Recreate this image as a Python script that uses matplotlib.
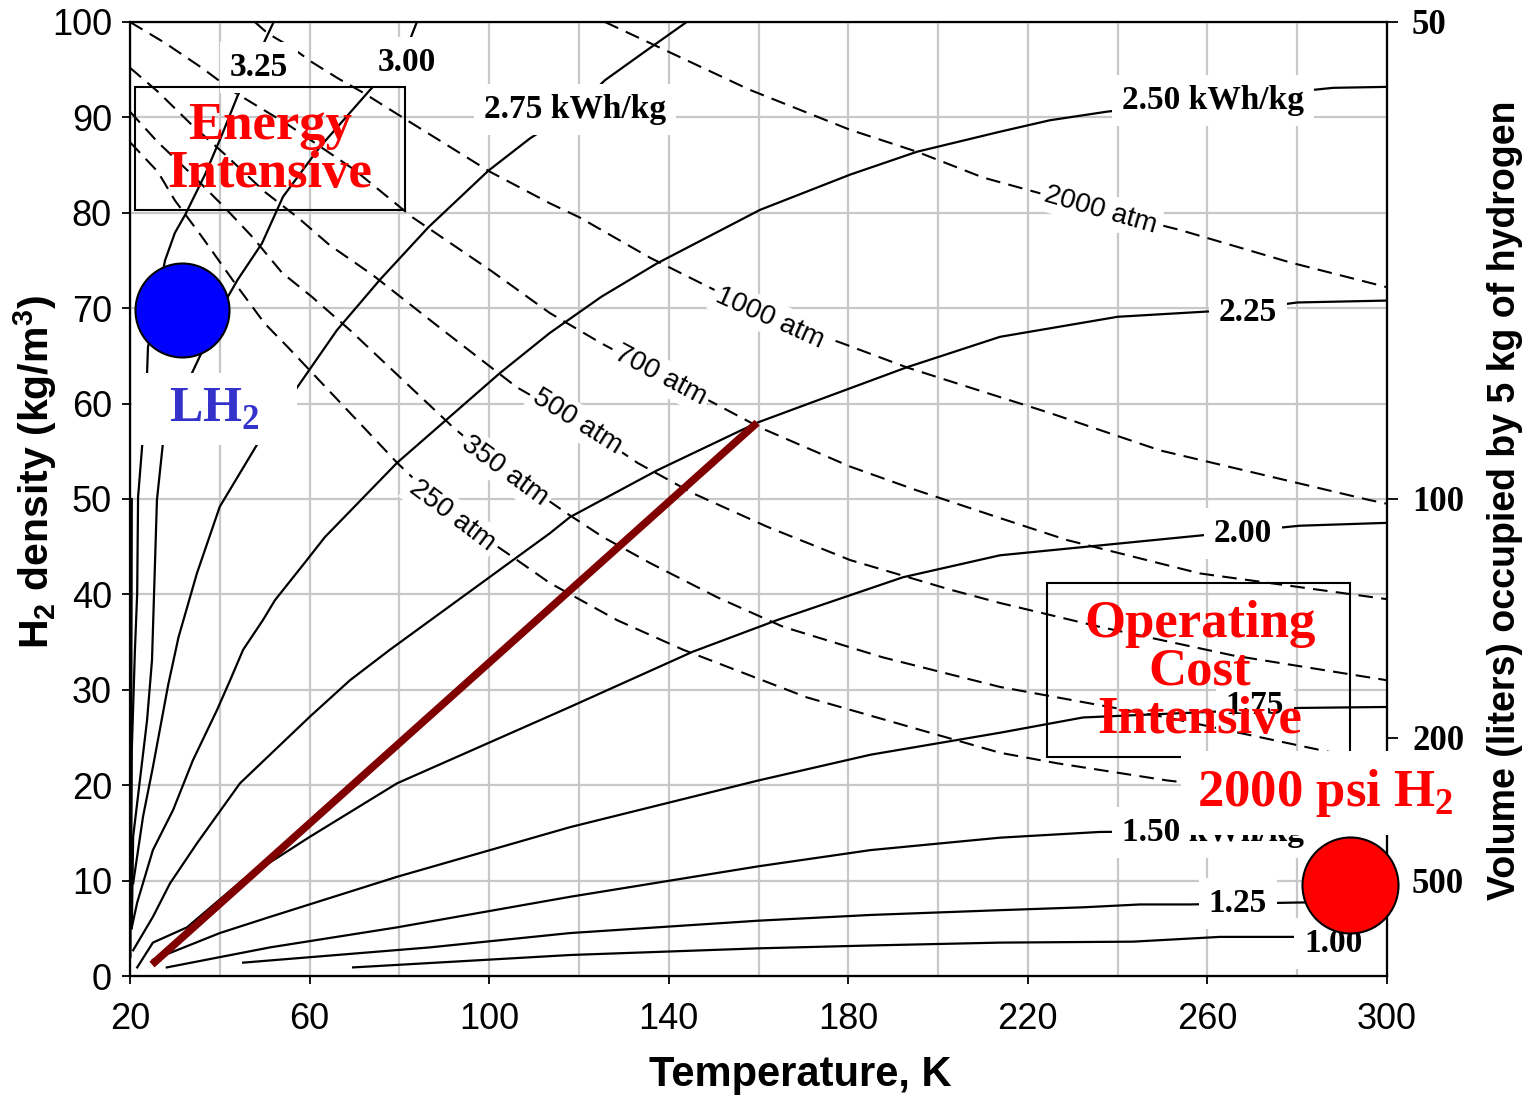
import matplotlib.pyplot as plt
import numpy as np
from matplotlib.patches import Rectangle

plt.rcParams['font.family'] = ['Liberation Sans', 'DejaVu Sans']
plt.rcParams['mathtext.fontset'] = 'custom'
plt.rcParams['mathtext.sf'] = 'Liberation Sans:bold'
plt.rcParams['mathtext.bf'] = 'Liberation Serif:bold'

SERIF = 'Liberation Serif'

e350 = [(20.1, 2), (20.3, 30), (20.4, 50)]
e325 = [(20.2, 5), (20.4, 23.7), (21.1, 34.2), (21.6, 40.1), (21.8, 50.2), (22.7, 55.5),
        (23.8, 63.2), (24.0, 65.9), (27.8, 75.0), (30.0, 77.9), (32.3, 79.8), (36.7, 84.0),
        (40.5, 88.2), (44.0, 92.3), (48.5, 96.5), (52.0, 100)]
e300 = [(20.4, 5), (20.7, 14.6), (23.8, 26.8), (24.9, 33.1), (26.0, 49.9), (27.3, 55.7),
        (33.8, 63.2), (41.8, 71.2), (44.0, 73.0), (49.4, 76.8), (54.1, 81.7), (62.3, 86.9),
        (73.5, 92.9), (81.0, 96.5), (83.9, 100)]
e275 = [(20.7, 9.7), (22.9, 16.7), (25.1, 21.9), (28.5, 30.5), (30.8, 35.5), (34.9, 42.2),
        (40.0, 49.2), (48.3, 55.7), (56.8, 61.4), (66.1, 67.7), (75.7, 73.0), (86.5, 78.5),
        (99.8, 84.4), (109.1, 87.8), (119.1, 90.8), (125.8, 93.9), (135.0, 97.0), (144.0, 100)]
e250 = [(20.4, 5.1), (21.6, 7.7), (25.1, 13.2), (29.6, 17.4), (34.0, 22.6), (39.4, 27.9),
        (42.3, 31.0), (45.2, 34.2), (49.6, 37.3), (52.3, 39.4), (59.4, 43.6), (63.4, 46.0),
        (79.5, 53.8), (102.4, 63.2), (113.5, 67.4), (125.0, 71.2), (137.4, 74.7),
        (160.3, 80.3), (180.4, 84.0), (195.3, 86.4), (213.8, 88.5), (224.9, 89.7),
        (237.6, 90.6), (261.0, 91.8), (288.0, 93.1), (300.0, 93.2)]
e225 = [(20.7, 2.7), (25.1, 6.2), (28.9, 9.7), (34.9, 13.9), (44.5, 20.2), (60.1, 27.2),
        (69.0, 31.0), (77.9, 34.2), (106.2, 43.9), (113.5, 46.4), (118.0, 48.1), (137.4, 53.0),
        (159.7, 58.0), (193.0, 63.8), (213.8, 67.0), (240.0, 69.1), (269.0, 69.9),
        (280.0, 70.6), (300.0, 70.8)]
e200 = [(21.6, 0.9), (25.1, 3.5), (32.7, 5.1), (45.2, 10.1), (60.1, 14.6), (79.5, 20.2),
        (118.0, 28.2), (145.4, 34.0), (164.1, 37.3), (192.2, 41.8), (213.8, 44.1),
        (256.8, 46.1), (280.6, 47.2), (300.0, 47.5)]
e175 = [(25.1, 1.7), (40.0, 4.5), (51.2, 6.2), (79.5, 10.4), (118.0, 15.6), (160.0, 20.5),
        (185.0, 23.2), (213.8, 25.5), (232.3, 27.1), (280.6, 28.1), (300.0, 28.2)]
e150 = [(28.2, 0.9), (51.2, 3.0), (79.5, 5.1), (118.0, 8.3), (160.0, 11.5), (185.0, 13.2),
        (213.8, 14.5), (236.0, 15.1), (261.0, 15.2)]
e125 = [(45.2, 1.4), (86.8, 3.0), (118.0, 4.5), (160.0, 5.8), (185.0, 6.4), (213.8, 6.9),
        (232.3, 7.2), (245.0, 7.5), (256.0, 7.5), (280.0, 7.7), (300.0, 7.8)]
e100 = [(69.7, 0.9), (92.0, 1.5), (118.0, 2.2), (160.0, 2.9), (185.0, 3.2), (213.8, 3.5),
        (243.4, 3.6), (262.8, 4.1), (280.0, 4.1)]
energy_curves = [e350, e325, e300, e275, e250, e225, e200, e175, e150, e125, e100]

energy_labels = ['3.25', '3.00', '2.75 kWh/kg', '2.50 kWh/kg', '2.25', '2.00',
                 '1.75', '1.50 kWh/kg', '1.25', '1.00']
energy_label_at = [(48.8, 95.2), (81.6, 95.8), (119.1, 90.8), (261.2, 91.8), (269.0, 69.6),
                   (267.9, 46.4), (270.6, 28.4), (261.2, 15.0), (266.8, 7.6), (288.1, 3.45)]

# isobars (atm)
p250 = [(20, 87.4), (26.2, 84.3), (30.0, 81.3), (36.0, 77.5), (43.4, 72.6), (50.0, 68.4),
        (55.2, 65.9), (79.5, 53.8), (91.7, 48.3), (105.3, 43.9), (113.5, 41.2), (128.5, 37.3),
        (143.2, 34.2), (170.8, 29.2), (213.8, 23.4), (226.5, 22.3), (251.0, 20.5),
        (275.0, 19.2), (300.0, 18.0)]
p350 = [(20, 90.6), (26.2, 87.4), (33.8, 84.0), (41.2, 80.5), (47.2, 77.5), (53.9, 73.7),
        (60.5, 71.2), (69.0, 67.7), (92.0, 57.5), (103.5, 53.0), (117.3, 48.5), (125.4, 46.0),
        (135.8, 43.3), (150.8, 39.7), (165.5, 36.6), (187.7, 33.4), (213.8, 30.3),
        (251.0, 27.1), (290.0, 23.2), (300.0, 22.6)]
p500 = [(20, 95.2), (26.2, 92.7), (33.8, 89.2), (41.2, 86.1), (50.0, 82.2), (57.4, 79.5),
        (64.5, 76.6), (74.0, 73.5), (89.7, 67.7), (106.2, 61.7), (119.6, 58.1), (133.0, 53.8),
        (145.4, 50.6), (161.9, 47.1), (180.4, 43.6), (202.7, 40.5), (213.8, 39.1),
        (236.0, 36.6), (265.7, 33.6), (300.0, 31.0)]
p700 = [(20, 100), (27.8, 97.8), (36.0, 95.2), (43.4, 92.6), (55.0, 89.3), (70.0, 84.5),
        (83.0, 79.5), (100.2, 74.0), (113.5, 69.5), (124.7, 66.4), (138.1, 63.0),
        (151.9, 59.6), (160.3, 57.5), (180.4, 53.4), (195.3, 50.9), (213.8, 48.0),
        (228.7, 45.7), (258.3, 42.2), (300.0, 39.5)]
p1000 = [(47.8, 100), (50.7, 98.8), (56.1, 97.3), (60.5, 95.8), (66.3, 94.1), (71.9, 92.6),
         (82.4, 89.5), (100.2, 84.3), (113.5, 81.0), (120.2, 79.5), (135.8, 75.3),
         (162.6, 69.0), (178.8, 66.3), (193.0, 63.8), (225.0, 59.0), (249.4, 55.1),
         (296.0, 49.9), (300.0, 49.5)]
p2000 = [(125.8, 100), (135.8, 97.8), (158.0, 92.9), (180.4, 88.7), (195.3, 86.4),
         (210.0, 83.7), (236.1, 80.3), (253.9, 78.2), (278.4, 74.8), (300.0, 72.2)]
isobars = [p250, p350, p500, p700, p1000, p2000]

isobar_labels = ['250 atm', '350 atm', '500 atm', '700 atm', '1000 atm', '2000 atm']
isobar_label_at = [(91.7, 48.3), (103.5, 53.0), (119.6, 58.1), (138.1, 63.0),
                   (162.6, 69.0), (236.1, 80.3)]
isobar_label_rot = [-37, -36, -32, -28, -24, -16]

# right axis: volume taken by 5 kg of hydrogen
H2_MASS_KG = 5
vol_ticks = [50, 100, 200, 500]

path_line = [(24.9, 1.2), (159.7, 58.0)]
lh2_point = (31.6, 69.8)
psi_point = (291.8, 9.5)

W, H = 1531, 1098
fig = plt.figure(figsize=(W / 100, H / 100), dpi=100)
ax = fig.add_axes([130 / W, 1 - 976 / H, 1257 / W, 954 / H])
ax2 = ax.twinx()
ax.set_zorder(ax2.get_zorder() + 1)
ax.patch.set_visible(False)

ax.set_xlim(20, 300)
ax.set_ylim(0, 100)
ax.set_xticks(np.arange(20, 301, 40))
ax.set_xticks(np.arange(40, 300, 40), minor=True)
ax.set_yticks(np.arange(0, 101, 10))
ax.grid(True, which='both', color='#c8c8c8', lw=1.6)
ax.set_axisbelow(True)
ax.tick_params(which='minor', length=0)
ax.tick_params(which='major', direction='out', length=6, width=1.3, labelsize=26)
ax.tick_params(axis='x', pad=13)
ax.tick_params(axis='y', pad=7)
for s in ax.spines.values():
    s.set_linewidth(1.6)

for c in energy_curves:
    t, r = zip(*c)
    ax.plot(t, r, color='black', lw=1.6, zorder=2)
for c in isobars:
    t, r = zip(*c)
    ax.plot(t, r, color='black', lw=1.5, ls=(0, (7, 4)), zorder=2)

for lab, (x, y) in zip(energy_labels, energy_label_at):
    ax.text(x, y, lab, family=SERIF, weight='bold', fontsize=24, ha='center', va='center',
            bbox=dict(boxstyle='square,pad=0.3', fc='white', ec='none'), zorder=4)
for lab, (x, y), rot in zip(isobar_labels, isobar_label_at, isobar_label_rot):
    ax.text(x, y, lab, fontsize=20, ha='center', va='center', rotation=rot,
            rotation_mode='anchor',
            bbox=dict(boxstyle='square,pad=0.15', fc='white', ec='none'), zorder=4)

t, r = zip(*path_line)
ax.plot(t, r, color='#800000', lw=5.5, solid_capstyle='butt', zorder=5)

# annotations
ax.add_patch(Rectangle((21.1, 80.3), 60.2, 12.9, fill=False, ec='black', lw=1.5, zorder=5))
ax.text(51.2, 86.6, 'Energy\nIntensive', family=SERIF, weight='bold', fontsize=38,
        color='red', ha='center', va='center', linespacing=1.0, zorder=6)
ax.add_patch(Rectangle((224.3, 23.0), 67.5, 18.2, fill=False, ec='black', lw=1.5, zorder=5))
ax.text(258.3, 31.9, 'Operating\nCost\nIntensive', family=SERIF, weight='bold', fontsize=38,
        color='red', ha='center', va='center', linespacing=1.0, zorder=6)

ax.add_patch(Rectangle((20.4, 55.7), 36.8, 7.5, fc='white', ec='none', zorder=3))
ax.text(38.9, 59.3, 'LH$_\\mathbf{2}$', family=SERIF, weight='bold', fontsize=36,
        color='#3333cc', ha='center', va='center', zorder=6)
ax.scatter([lh2_point[0]], [lh2_point[1]], s=4580, color='#0000ff', edgecolors='black',
           linewidths=1.5, zorder=6, clip_on=False)

ax.text(286.2, 19.2, '2000 psi H$_\\mathbf{2}$', family=SERIF, weight='bold', fontsize=38,
        color='red', ha='center', va='center',
        bbox=dict(boxstyle='square,pad=0.3', fc='white', ec='none'), zorder=7)
ax.scatter([psi_point[0]], [psi_point[1]], s=4780, color='#ff0000', edgecolors='black',
           linewidths=1.5, zorder=7, clip_on=False)

ax2.set_ylim(ax.get_ylim())
ax2.set_yticks([H2_MASS_KG * 1000 / v for v in vol_ticks])
ax2.set_yticklabels([str(v) for v in vol_ticks], family=SERIF, weight='bold', fontsize=25)
ax2.tick_params(direction='out', length=8, width=1.3, pad=10)

fig.text(800 / W, 1 - 1075 / H, 'Temperature, K', fontsize=30, weight='bold',
         ha='center', va='center')
fig.text(35 / W, 1 - 472 / H, 'H$_\\mathsf{2}$ density (kg/m$^\\mathsf{3}$)', fontsize=29.5,
         weight='bold', rotation=90, ha='center', va='center')
fig.text(1505 / W, 1 - 500 / H, 'Volume (liters) occupied by 5 kg of hydrogen', fontsize=27,
         weight='bold', rotation=90, ha='center', va='center')

fig.savefig('out.png', dpi=100, facecolor='white')
